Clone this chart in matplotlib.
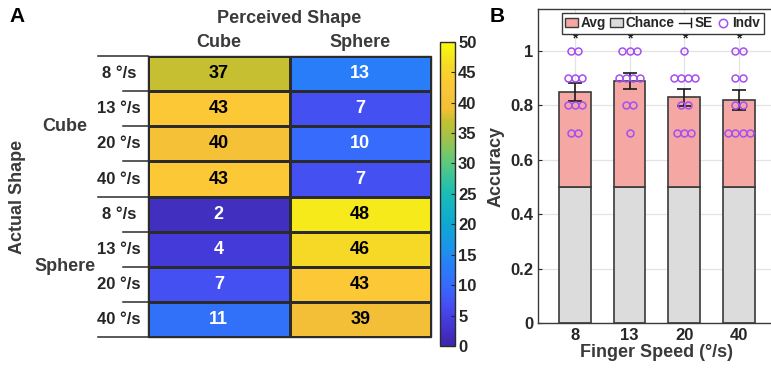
import numpy as np
import matplotlib
matplotlib.use('Agg')
import matplotlib.pyplot as plt
from matplotlib.colors import LinearSegmentedColormap
from matplotlib.patches import Patch, Rectangle
from matplotlib.lines import Line2D
from matplotlib.legend_handler import HandlerBase

plt.rcParams['font.family'] = ['Liberation Sans', 'DejaVu Sans']
plt.rcParams['font.weight'] = 'bold'
plt.rcParams['axes.labelweight'] = 'bold'
TXT = '#262626'

# ---- data: panel A ----
speeds = ['8 °/s', '13 °/s', '20 °/s', '40 °/s']
perceived = ['Cube', 'Sphere']
actual = ['Cube', 'Sphere']
counts = np.array([[37, 13],
                   [43, 7],
                   [40, 10],
                   [43, 7],
                   [2, 48],
                   [4, 46],
                   [7, 43],
                   [11, 39]])

# ---- data: panel B ----
speed_vals = ['8', '13', '20', '40']
avg_acc = [0.85, 0.89, 0.83, 0.82]
se_acc = [0.032, 0.030, 0.031, 0.037]
chance = [0.5, 0.5, 0.5, 0.5]
indv = [[1.0, 1.0, 0.9, 0.9, 0.9, 0.8, 0.8, 0.8, 0.7, 0.7],
        [1.0, 1.0, 1.0, 0.9, 0.9, 0.9, 0.9, 0.8, 0.8, 0.7],
        [1.0, 0.9, 0.9, 0.9, 0.9, 0.8, 0.8, 0.7, 0.7, 0.7],
        [1.0, 1.0, 0.9, 0.9, 0.8, 0.8, 0.7, 0.7, 0.7, 0.7]]

# parula-like colormap
parula = LinearSegmentedColormap.from_list('parula', [
    (0.00, (0.242, 0.150, 0.660)),
    (0.04, (0.255, 0.185, 0.750)),
    (0.08, (0.268, 0.230, 0.860)),
    (0.13, (0.278, 0.300, 0.950)),
    (0.20, (0.210, 0.420, 0.985)),
    (0.26, (0.160, 0.490, 0.975)),
    (0.32, (0.110, 0.580, 0.920)),
    (0.40, (0.050, 0.660, 0.830)),
    (0.50, (0.100, 0.740, 0.720)),
    (0.60, (0.350, 0.790, 0.500)),
    (0.68, (0.620, 0.765, 0.300)),
    (0.74, (0.770, 0.750, 0.190)),
    (0.78, (0.950, 0.750, 0.210)),
    (0.86, (0.990, 0.780, 0.210)),
    (0.92, (0.960, 0.850, 0.150)),
    (1.00, (0.976, 0.983, 0.054))])

fig = plt.figure(figsize=(7.71, 3.71), dpi=100)

# ================= panel A =================
ax = fig.add_axes([0.192, 0.0916, 0.367, 0.757])
mesh = ax.pcolormesh(np.arange(3), np.arange(9), counts, cmap=parula, vmin=0, vmax=50,
                     edgecolors='#2b2b2b', linewidth=0.8)
ax.set_xlim(0, 2)
ax.set_ylim(8, 0)
ax.axis('off')
ax.add_patch(Rectangle((0, 0), 2, 8, fill=False, ec='#2b2b2b', lw=1.0, clip_on=False))

for i in range(counts.shape[0]):
    for j in range(counts.shape[1]):
        v = counts[i, j]
        ax.text(j + 0.5, i + 0.5, str(v), ha='center', va='center', fontsize=13,
                fontweight='bold', color='white' if v < 25 else 'black')

# row separators extending to the left
for k in range(9):
    x0 = -0.353 if k % 4 == 0 else -0.177
    ax.plot([x0, 0], [k, k], color='#2b2b2b', lw=1.1, clip_on=False)

for g, name in enumerate(actual):
    for s, sp in enumerate(speeds):
        ax.text(-0.205, g * 4 + s + 0.5, sp, ha='center', va='center', fontsize=12,
                color=TXT)
    ax.text(-0.587, g * 4 + 2, name, ha='center', va='center', fontsize=13, color='#3a3a3a')

ax.text(-0.92, 4, 'Actual Shape', rotation=90, ha='center', va='center', fontsize=13,
        color='#3a3a3a')
for j, name in enumerate(perceived):
    ax.text(j + 0.5, -0.4, name, ha='center', va='center', fontsize=13, color='#3a3a3a')
ax.text(1.0, -1.08, 'Perceived Shape', ha='center', va='center', fontsize=13, color='#3a3a3a')

cax = fig.add_axes([0.571, 0.0674, 0.0195, 0.82])
cb = fig.colorbar(mesh, cax=cax, ticks=np.arange(0, 51, 5))
cb.outline.set_edgecolor('#2b2b2b')
cb.outline.set_linewidth(1.0)
cax.tick_params(direction='in', length=3, labelsize=12, colors=TXT, pad=2)

fig.text(0.012, 0.955, 'A', fontsize=15, fontweight='bold', color='black', va='center')

# ================= panel B =================
bx = fig.add_axes([0.698, 0.129, 0.308, 0.847])
xpos = np.arange(1, len(speed_vals) + 1)
extra = [a - c for a, c in zip(avg_acc, chance)]
bx.bar(xpos, chance, width=0.58, color='#dcdcdc', edgecolor='#3a3a3a', lw=1.2, zorder=2)
bx.bar(xpos, extra, bottom=chance, width=0.58, color='#f5a7a3', edgecolor='#3a3a3a',
       lw=1.2, zorder=2)
bx.errorbar(xpos, avg_acc, yerr=se_acc, fmt='none', ecolor='#1a1a1a', elinewidth=1.2,
            capsize=5, capthick=1.2, zorder=4)

for x, pts in zip(xpos, indv):
    pts = np.array(pts)
    for v in np.unique(pts):
        k = np.sum(pts == v)
        offs = (np.arange(k) - (k - 1) / 2) * 0.13
        bx.plot(x + offs, [v] * k, 'o', ms=5, mfc='none', mec='#a64ff0', mew=1.1, zorder=5)
    bx.text(x, 1.045, '*', ha='center', va='center', fontsize=10, color='#1a1a1a')

bx.set_xlim(0.33, 4.67)
bx.set_ylim(0, 1.155)
bx.set_xticks(xpos)
bx.set_xticklabels(speed_vals)
bx.set_yticks([0, 0.2, 0.4, 0.6, 0.8, 1])
bx.set_yticklabels(['0', '0.2', '0.4', '0.6', '0.8', '1'])
bx.tick_params(direction='in', length=3, labelsize=12, colors=TXT)
bx.grid(True, color='#e3e3e3', lw=0.9, zorder=0)
bx.set_axisbelow(True)
for sp in bx.spines.values():
    sp.set_color('#3a3a3a')
    sp.set_linewidth(1.0)
bx.set_ylabel('Accuracy', fontsize=13, color='#3a3a3a', labelpad=4)
bx.set_xlabel('Finger Speed (°/s)', fontsize=13, color='#3a3a3a', labelpad=1)


class HandlerSE(HandlerBase):
    def create_artists(self, legend, orig_handle, xdescent, ydescent, width, height,
                       fontsize, trans):
        y = height / 2 - ydescent
        h = Line2D([0, width], [y, y], color='#1a1a1a', lw=1.0, transform=trans)
        v = Line2D([width, width], [y - height * 0.45, y + height * 0.45], color='#1a1a1a',
                   lw=1.0, transform=trans)
        return [h, v]


se_handle = Line2D([], [], color='#1a1a1a')
handles = [Patch(facecolor='#f5a7a3', edgecolor='#3a3a3a'),
           Patch(facecolor='#dcdcdc', edgecolor='#3a3a3a'),
           se_handle,
           Line2D([], [], ls='none', marker='o', ms=6, mfc='none', mec='#a64ff0', mew=1.1)]
leg = bx.legend(handles, ['Avg', 'Chance', 'SE', 'Indv'], ncol=4, loc='upper left',
                bbox_to_anchor=(0.10, 0.987), borderaxespad=0, fontsize=9.8,
                handlelength=0.9, handletextpad=0.25, columnspacing=0.3, borderpad=0.25,
                fancybox=False, edgecolor='#3a3a3a', framealpha=1,
                handler_map={se_handle: HandlerSE()})
leg.get_frame().set_linewidth(1.0)
for t in leg.get_texts():
    t.set_color(TXT)

fig.text(0.635, 0.955, 'B', fontsize=15, fontweight='bold', color='black', va='center')

fig.savefig('out.png', dpi=100)
